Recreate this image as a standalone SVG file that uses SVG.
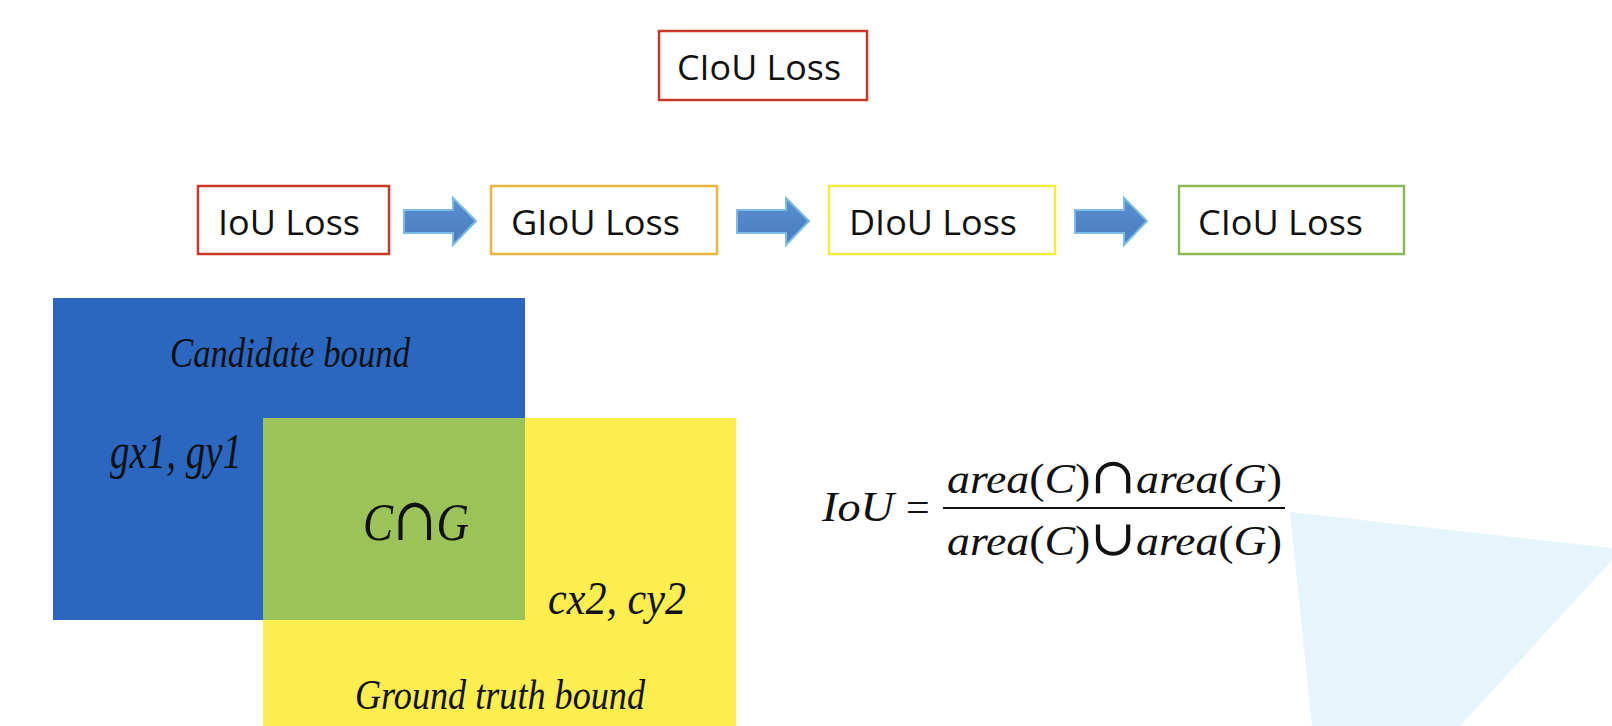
<svg xmlns="http://www.w3.org/2000/svg" width="1612" height="726" viewBox="0 0 1612 726">
<defs>
<style>
.box{fill:#ffffff;stroke-width:2.5}
.lbl{font-family:"Open Sans","Liberation Sans",sans-serif;font-size:34px;fill:#111}
.math{font-family:"Liberation Serif","Times New Roman",serif;font-style:italic;fill:#111}
.up{font-style:normal}
.sym{font-family:"DejaVu Serif",serif;font-style:normal}
.arr{fill:url(#ag);stroke:#7cbbe8;stroke-width:2}
</style>
<linearGradient id="ag" x1="0" y1="0" x2="0" y2="1">
<stop offset="0" stop-color="#5b8fd0"/>
<stop offset="1" stop-color="#4a7cc0"/>
</linearGradient>
<path id="arrowShape" d="M0,-11 L49,-11 L49,-23 L72,0 L49,24 L49,12 L0,12 Z"/>
</defs>
<rect width="1612" height="726" fill="#ffffff"/>
<polygon points="1290,512 1612,548 1612,560 1460,726 1312,726" fill="#e6f4fc"/>

<g id="top-ciou">
<rect class="box" x="659" y="31" width="208" height="69" stroke="#c8392b"/>
<text class="lbl" x="677" y="80" textLength="164" lengthAdjust="spacingAndGlyphs">CIoU Loss</text>
</g>

<g id="iou">
<rect class="box" x="198" y="186" width="191" height="68" stroke="#c8392b"/>
<text class="lbl" x="218" y="235" textLength="142" lengthAdjust="spacingAndGlyphs">IoU Loss</text>
</g>
<g id="giou">
<rect class="box" x="491" y="186" width="226" height="68" stroke="#e8b43c"/>
<text class="lbl" x="511" y="235" textLength="169" lengthAdjust="spacingAndGlyphs">GIoU Loss</text>
</g>
<g id="diou">
<rect class="box" x="829" y="186" width="226" height="68" stroke="#f6ec3a"/>
<text class="lbl" x="849" y="235" textLength="168" lengthAdjust="spacingAndGlyphs">DIoU Loss</text>
</g>
<g id="ciou">
<rect class="box" x="1179" y="186" width="225" height="68" stroke="#8db85a"/>
<text class="lbl" x="1198" y="235" textLength="165" lengthAdjust="spacingAndGlyphs">CIoU Loss</text>
</g>

<g id="connectors">
<use href="#arrowShape" class="arr" transform="translate(404,221)"/>
<use href="#arrowShape" class="arr" transform="translate(737,221)"/>
<use href="#arrowShape" class="arr" transform="translate(1075,221)"/>
</g>

<g id="boxes-illustration">
<rect x="53" y="298" width="472" height="322" fill="#2b67c0"/>
<rect x="263" y="418" width="473" height="308" fill="#fcee4f"/>
<rect x="263" y="418" width="262" height="202" fill="#9bc35a"/>
<text class="math" x="170" y="367" font-size="42" textLength="240" lengthAdjust="spacingAndGlyphs">Candidate bound</text>
<text class="math" x="110" y="468" font-size="50" textLength="132" lengthAdjust="spacingAndGlyphs">gx1, gy1</text>
<text class="math" x="363" y="540" font-size="52" textLength="106" lengthAdjust="spacingAndGlyphs">C<tspan class="sym" font-size="60">∩</tspan>G</text>
<text class="math" x="548" y="614" font-size="46" textLength="138" lengthAdjust="spacingAndGlyphs">cx2, cy2</text>
<text class="math" x="355" y="709" font-size="42" textLength="290" lengthAdjust="spacingAndGlyphs">Ground  truth bound</text>
</g>

<g id="formula">
<text class="math" x="822" y="521" font-size="42" textLength="72" lengthAdjust="spacingAndGlyphs">IoU</text>
<text class="math up" x="906" y="521" font-size="42">=</text>
<line x1="943" y1="508" x2="1285" y2="508" stroke="#111" stroke-width="2"/>
<text class="math" x="947" y="493" font-size="42" textLength="335" lengthAdjust="spacingAndGlyphs">area<tspan class="up">(</tspan>C<tspan class="up">)</tspan><tspan class="sym" font-size="50">∩</tspan>area<tspan class="up">(</tspan>G<tspan class="up">)</tspan></text>
<text class="math" x="947" y="555" font-size="42" textLength="335" lengthAdjust="spacingAndGlyphs">area<tspan class="up">(</tspan>C<tspan class="up">)</tspan><tspan class="sym" font-size="50">∪</tspan>area<tspan class="up">(</tspan>G<tspan class="up">)</tspan></text>
</g>
</svg>
